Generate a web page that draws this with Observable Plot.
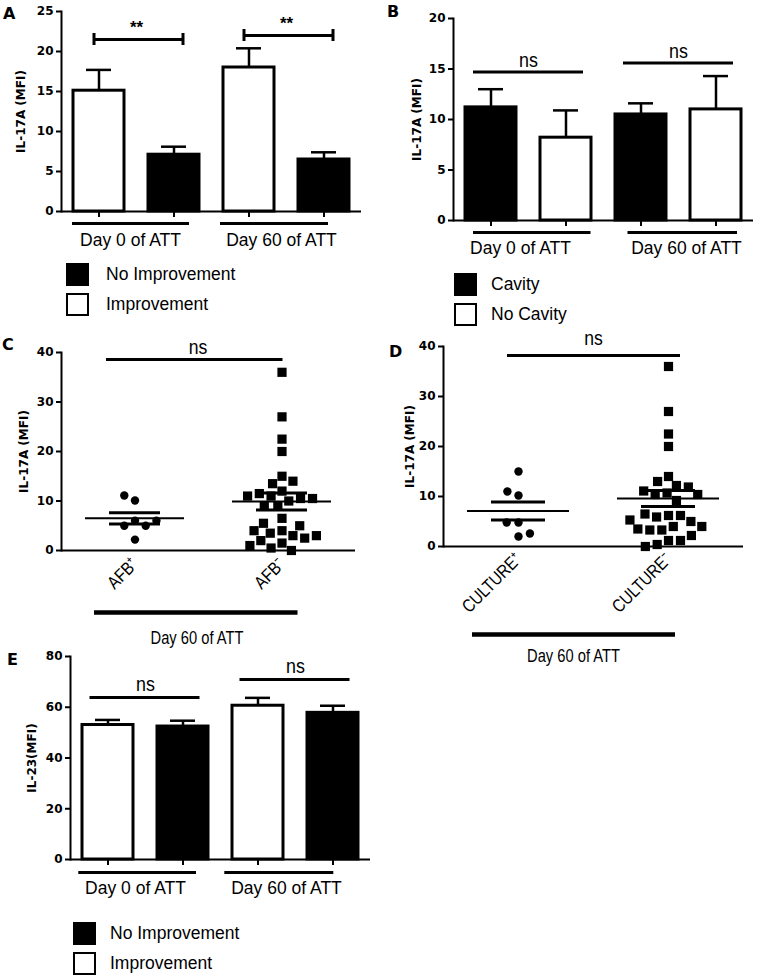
<!DOCTYPE html>
<html><head><meta charset="utf-8">
<script src="https://cdn.jsdelivr.net/npm/d3@7"></script>
<script src="https://cdn.jsdelivr.net/npm/@observablehq/plot@0.6"></script>
<style>
body{margin:0;background:#fff;}
#fig{position:relative;width:757px;height:979px;overflow:hidden;font-family:"Liberation Sans",Arial,sans-serif;color:#000;background:#fff;}
.letter{position:absolute;font-family:"DejaVu Sans",sans-serif;font-weight:bold;font-size:16px;line-height:16px;}
.leg{position:absolute;display:flex;align-items:center;font-size:17.5px;line-height:23px;white-space:nowrap;}
.sw{box-sizing:border-box;width:23px;height:23px;border:2.5px solid #000;}
</style></head><body><div id="fig"></div><script>
// ---------- data ----------
const days = ["Day 0 of ATT", "Day 60 of ATT"];

// Panel A (IL-17A, improvement)
const groupsA = ["Improvement", "No Improvement"];
const meanA_Improvement = [15.1, 18.0];
const semA_Improvement = [2.6, 2.4];
const meanA_NoImprovement = [7.1, 6.5];
const semA_NoImprovement = [1.0, 0.9];
const bracketA = [21.5, 22.0];
const bracketLabelA = ["**", "**"];
const yTicksA = [0, 5, 10, 15, 20, 25];

// Panel B (IL-17A, cavity)
const groupsB = ["Cavity", "No Cavity"];
const meanB_Cavity = [11.2, 10.5];
const semB_Cavity = [1.8, 1.1];
const meanB_NoCavity = [8.2, 11.0];
const semB_NoCavity = [2.7, 3.3];
const nsB = [14.7, 15.6];
const nsLabelB = ["ns", "ns"];
const yTicksB = [0, 5, 10, 15, 20];

// Panel C (AFB at day 60)
const catsC = ["AFB\u207A", "AFB\u207B"];
const afbPos = [10.1, 11.1, 6.0, 5.0, 5.0, 6.0, 2.2];
const afbNeg = [36, 27, 22.5, 20, 15, 13.5, 14, 12, 11, 10, 10.5, 11.5, 10.5, 11, 9, 9, 6.5, 4, 3.5, 3, 5, 5.5, 4, 2.5, 3, 2, 1.5, 0.5, 1, 0];
const meanC = [6.5, 9.9];
const semC = [1.15, 1.7];
const nsC = 38.6;
const yTicksC = [0, 10, 20, 30, 40];

// Panel D (culture at day 60)
const catsD = ["CULTURE\u207A", "CULTURE\u207B"];
const culturePos = [15.0, 10.2, 11.0, 4.8, 4.8, 2.0, 2.6];
const cultureNeg = [36, 27, 22.5, 20, 14, 13, 12.2, 10.7, 10.4, 11.9, 11.1, 10.4, 9.2, 6.2, 5.9, 6.2, 6.5, 5, 4, 3.3, 3.3, 3.5, 4, 1.2, 0.4, 1.2, 2.2, 5.3, 0];
const meanD = [7.1, 9.6];
const semD = [1.8, 1.6];
const nsD = 38.2;
const yTicksD = [0, 10, 20, 30, 40];
const groupLabelCD = "Day 60 of ATT";

// Panel E (IL-23, improvement)
const groupsE = ["Improvement", "No Improvement"];
const meanE_Improvement = [53.0, 60.6];
const semE_Improvement = [2.0, 3.1];
const meanE_NoImprovement = [52.4, 57.8];
const semE_NoImprovement = [2.3, 2.8];
const nsE = [63.8, 70.9];
const nsLabelE = ["ns", "ns"];
const yTicksE = [0, 20, 40, 60, 80];

// ---------- helpers ----------
const fig = document.getElementById("fig");
const SANS = "Liberation Sans";
const axisFont = {fontFamily: "DejaVu Sans", fontWeight: "bold", fontSize: 12};

function place(node, left, top) {
  node.style.position = "absolute";
  node.style.left = left + "px";
  node.style.top = top + "px";
  fig.appendChild(node);
  return node;
}

// narrow the lettering of marks tagged "narrow" (the original uses a condensed face)
function condense(svg, factor) {
  svg.querySelectorAll(".narrow text").forEach(t => {
    const w = t.getComputedTextLength();
    if (w > 0) {
      t.setAttribute("textLength", (w * factor).toFixed(1));
      t.setAttribute("lengthAdjust", "spacingAndGlyphs");
    }
  });
}

function barPanel(o) {
  const rows = [];
  o.groups.forEach((g, j) => days.forEach((day, i) =>
    rows.push({day, group: g, mean: o.means[j][i], top: o.means[j][i] + o.sems[j][i]})));
  const sig = days.map((day, i) => ({day, a: o.groups[0], b: o.groups[1], v: o.sig[i], label: o.sigLabel[i]}));
  const marks = [
    Plot.ruleX(rows, {fx: "day", x: "group", y1: "mean", y2: "top", strokeWidth: 2.5}),
    Plot.tickY(rows, {fx: "day", x: "group", y: "top", insetLeft: 13, insetRight: 13, strokeWidth: 2.5}),
    Plot.barY(rows, {fx: "day", x: "group", y: "mean", fill: "group", stroke: "black", strokeWidth: 3}),
    Plot.ruleY([0], {strokeWidth: 2}),
    Plot.frame({anchor: "left", facetAnchor: "left", strokeWidth: 2}),
    Plot.axisY({ticks: o.ticks, tickSize: 5, tickPadding: 3, strokeWidth: 2, ...axisFont,
      label: o.yLabel, labelAnchor: "center", labelArrow: "none", labelOffset: o.labelOffset}),
    Plot.axisX({tickSize: 6, strokeWidth: 2, tickFormat: () => "", label: null}),
    Plot.ruleY(sig, {fx: "day", x1: "a", x2: "b", y: "v", insetLeft: o.sigInset[0], insetRight: o.sigInset[1], strokeWidth: 3}),
    Plot.text(sig, {fx: "day", y: "v", text: "label", dy: o.sigDy, className: o.sigNarrow ? "narrow" : undefined, ...o.sigFont})
  ];
  if (o.caps) marks.push(
    Plot.ruleX(sig, {fx: "day", x: "a", y1: "v", y2: "v", insetTop: -6, insetBottom: -6, dx: o.caps[0], strokeWidth: 3}),
    Plot.ruleX(sig, {fx: "day", x: "b", y1: "v", y2: "v", insetTop: -6, insetBottom: -6, dx: o.caps[1], strokeWidth: 3}));
  days.forEach((day, i) => {
    const u = o.under[i];
    marks.push(
      Plot.ruleY([{day}], {fx: "day", y: () => 0, dy: o.underDy, insetLeft: u[0], insetRight: u[1], strokeWidth: 3}),
      Plot.text([{day}], {fx: "day", text: "day", frameAnchor: "bottom", dx: u[2], dy: o.labelDy,
        fontFamily: SANS, fontSize: 17.5}));
  });
  return Plot.plot({
    width: o.width, height: o.height,
    marginLeft: o.margin[0], marginRight: o.margin[1], marginTop: o.margin[2], marginBottom: o.margin[3],
    fx: {domain: days, padding: 0, axis: null},
    x: {domain: o.groups, paddingInner: 0.32, paddingOuter: 0.16, axis: null},
    y: {domain: o.domain, axis: null},
    color: {domain: o.colorDomain, range: o.colorRange},
    style: {fontFamily: "DejaVu Sans", fontSize: "12px", color: "black", background: "transparent", overflow: "visible"},
    marks
  });
}

function dotPanel(o) {
  const pts = [];
  o.cats.forEach((c, j) => o.values[j].forEach(v => pts.push({cat: c, v})));
  const stats = o.cats.map((c, j) => ({cat: c, mean: o.means[j], lo: o.means[j] - o.sems[j], hi: o.means[j] + o.sems[j]}));
  const labels = o.cats.map(c => ({cat: c}));
  // annotations spanning both columns are anchored in the first column and extended by insets
  const first = [{cat: o.cats[0], ns: o.ns, label: groupLabelCD}];
  const marks = [
    Plot.ruleY([0], {strokeWidth: 2}),
    Plot.frame({anchor: "left", facetAnchor: "left", strokeWidth: 2}),
    Plot.axisY({ticks: o.ticks, tickSize: 5, tickPadding: 3, strokeWidth: 2, ...axisFont,
      label: o.yLabel, labelAnchor: "center", labelArrow: "none", labelOffset: o.labelOffset}),
    // category ticks and rotated category labels
    Plot.ruleX(stats, {fx: "cat", y1: () => 0, y2: () => 0, insetBottom: -5, strokeWidth: 2}),
    Plot.text(labels, {fx: "cat", text: "cat", frameAnchor: "bottom", rotate: -45, textAnchor: "end",
      dx: o.catDx, dy: o.catDy, fontFamily: SANS, fontSize: 18, className: "narrow"}),
    Plot.dot(pts.filter(d => d.cat === o.cats[0]), Plot.dodgeX({anchor: "middle", padding: 3.4},
      {fx: "cat", y: "v", r: 4.2, symbol: "circle", fill: "black"})),
    Plot.dot(pts.filter(d => d.cat === o.cats[1]), Plot.dodgeX({anchor: "middle", padding: 1.6},
      {fx: "cat", y: "v", r: 5.2, symbol: "square", fill: "black"})),
    Plot.tickY(stats, {fx: "cat", y: "mean", insetLeft: 24, insetRight: 24, strokeWidth: 2}),
    Plot.tickY(stats, {fx: "cat", y: "lo", insetLeft: 48, insetRight: 48, strokeWidth: 3}),
    Plot.tickY(stats, {fx: "cat", y: "hi", insetLeft: 48, insetRight: 48, strokeWidth: 3}),
    Plot.ruleX(stats, {fx: "cat", y1: "lo", y2: "hi", strokeWidth: 3}),
    Plot.ruleY(first, {fx: "cat", y: "ns", insetLeft: o.nsInset[0], insetRight: o.nsInset[1], strokeWidth: 3}),
    Plot.text(first, {fx: "cat", y: "ns", text: () => "ns", dx: o.nsDx, dy: o.nsDy, fontFamily: SANS, fontSize: 21, className: "narrow"}),
    Plot.ruleY(first, {fx: "cat", y: () => 0, dy: o.barDy, insetLeft: o.barInset[0], insetRight: o.barInset[1], strokeWidth: 4.5}),
    Plot.text(first, {fx: "cat", frameAnchor: "bottom", text: "label", dx: o.labelDx, dy: o.labelDy,
      fontFamily: SANS, fontSize: 17.5, className: "narrow"})
  ];
  return Plot.plot({
    width: o.width, height: o.height,
    marginLeft: o.margin[0], marginRight: o.margin[1], marginTop: o.margin[2], marginBottom: o.margin[3],
    fx: {domain: o.cats, padding: 0, axis: null},
    y: {domain: o.domain, axis: null},
    style: {fontFamily: "DejaVu Sans", fontSize: "12px", color: "black", background: "transparent", overflow: "visible"},
    marks
  });
}

function legend(plot, labels, swLeft, tops, textLeft) {
  const color = plot.scale("color");
  labels.forEach((lab, i) => {
    const row = document.createElement("div");
    row.className = "leg";
    const sw = document.createElement("div");
    sw.className = "sw";
    sw.style.background = color.apply(lab);
    const t = document.createElement("span");
    t.textContent = lab;
    t.style.marginLeft = (textLeft - swLeft - 23) + "px";
    row.appendChild(sw); row.appendChild(t);
    place(row, swLeft, tops[i]);
  });
}

function letter(ch, left, top) {
  const d = document.createElement("div");
  d.className = "letter";
  d.textContent = ch;
  place(d, left, top);
}

// ---------- Panel A ----------
const plotA = barPanel({
  groups: groupsA, means: [meanA_Improvement, meanA_NoImprovement], sems: [semA_Improvement, semA_NoImprovement],
  sig: bracketA, sigLabel: bracketLabelA, ticks: yTicksA, domain: [0, 25], yLabel: "IL-17A (MFI)",
  colorDomain: groupsA, colorRange: ["white", "black"],
  width: 380, height: 256, margin: [61, 19, 11, 45], labelOffset: 45,
  sigInset: [20, 17], caps: [-5, 9], sigDy: -12, sigNarrow: false,
  sigFont: {fontFamily: SANS, fontWeight: "bold", fontSize: 17},
  under: [[11, 22, -6], [9, 33, -5]], underDy: 12, labelDy: 34
});
place(plotA, 0, 0);
legend(plotA, ["No Improvement", "Improvement"], 66, [263, 293], 106);
letter("A", 3, 6);

// ---------- Panel B ----------
const plotB = barPanel({
  groups: groupsB, means: [meanB_Cavity, meanB_NoCavity], sems: [semB_Cavity, semB_NoCavity],
  sig: nsB, sigLabel: nsLabelB, ticks: yTicksB, domain: [0, 20], yLabel: "IL-17A (MFI)",
  colorDomain: groupsB, colorRange: ["black", "white"],
  width: 377, height: 265, margin: [72, 4, 18, 45], labelOffset: 41,
  sigInset: [8, 8], caps: null, sigDy: -12, sigNarrow: true,
  sigFont: {fontFamily: SANS, fontSize: 21},
  under: [[20, 12.5, -8], [24.5, 16, 8]], underDy: 12, labelDy: 33
});
place(plotB, 380, 0);
condense(plotB, 0.85);
legend(plotB, ["Cavity", "No Cavity"], 454, [273, 303], 491);
letter("B", 387, 4);

// ---------- Panel C ----------
const plotC = dotPanel({
  cats: catsC, values: [afbPos, afbNeg], means: meanC, sems: semC, ns: nsC, ticks: yTicksC, domain: [0, 40],
  yLabel: "IL-17A (MFI)", width: 380, height: 318, margin: [60, 25, 22, 98], labelOffset: 42,
  catDx: 4, catDy: 15, nsInset: [45, -74.5], nsDx: 63, nsDy: -12,
  barDy: 62, barInset: [33, -89.5], labelDx: 62, labelDy: 93
});
place(plotC, 0, 330);
condense(plotC, 0.84);
letter("C", 2, 337);

// ---------- Panel D ----------
const plotD = dotPanel({
  cats: catsD, values: [culturePos, cultureNeg], means: meanD, sems: semD, ns: nsD, ticks: yTicksD, domain: [0, 40],
  yLabel: "IL-17A (MFI)", width: 377, height: 340, margin: [63, 14, 16, 124], labelOffset: 38.5,
  catDx: 4, catDy: 14, nsInset: [64, -87], nsDx: 75, nsDy: -17,
  barDy: 88, barInset: [29, -82], labelDx: 55, labelDy: 115
});
place(plotD, 380, 330);
condense(plotD, 0.84);
letter("D", 389, 344);

// ---------- Panel E ----------
const plotE = barPanel({
  groups: groupsE, means: [meanE_Improvement, meanE_NoImprovement], sems: [semE_Improvement, semE_NoImprovement],
  sig: nsE, sigLabel: nsLabelE, ticks: yTicksE, domain: [0, 80], yLabel: "IL-23(MFI)",
  colorDomain: groupsE, colorRange: ["white", "black"],
  width: 380, height: 260, margin: [70, 10, 6, 51], labelOffset: 43,
  sigInset: [7.5, 8.5], caps: null, sigDy: -13, sigNarrow: true,
  sigFont: {fontFamily: SANS, fontSize: 21},
  under: [[8.3, 24, -10], [4.3, 36.7, -9]], underDy: 13, labelDy: 34
});
place(plotE, 0, 650);
condense(plotE, 0.85);
legend(plotE, ["No Improvement", "Improvement"], 72.5, [922, 952], 110);
letter("E", 7, 652);
</script></body></html>
